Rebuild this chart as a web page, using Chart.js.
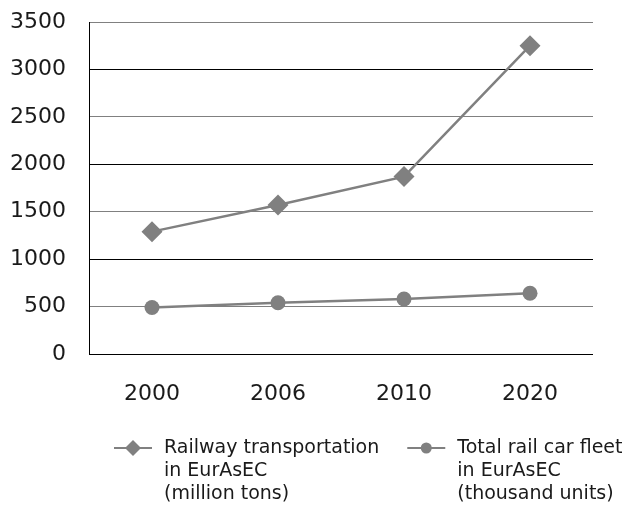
<!DOCTYPE html>
<html>
<head>
<meta charset="utf-8">
<script src="https://cdn.jsdelivr.net/npm/chart.js@4"></script>
<style>
  html, body { margin: 0; padding: 0; background: #fff; }
</style>
</head>
<body>
<canvas id="railChart" width="631" height="507"></canvas>
<script>
// data
var years = ['2000', '2006', '2010', '2020'];
var railwayTransport = [1290, 1570, 1870, 3250];
var railCarFleet = [490, 540, 580, 640];
var railwayLegend = ['Railway transportation', 'in EurAsEC', '(million tons)'];
var fleetLegend = ['Total rail car fleet', 'in EurAsEC', '(thousand units)'];

var grey = '#808080';
var textColor = '#1a1a1a';
var fontFamily = '"DejaVu Sans", sans-serif';

// legend drawn below the axis: line + marker, three text lines each
var lineLegend = {
    id: 'lineLegend',
    afterDraw: function(chart) {
        var ctx = chart.ctx;
        var x = chart.chartArea.left + 25;
        var y = chart.scales.x.bottom + 44;
        ctx.save();
        ctx.font = '19px ' + fontFamily;
        ctx.textBaseline = 'middle';
        ctx.textAlign = 'left';
        chart.data.datasets.forEach(function(ds) {
            ctx.strokeStyle = ds.borderColor;
            ctx.fillStyle = ds.borderColor;
            ctx.lineWidth = 2;
            ctx.beginPath();
            ctx.moveTo(x, y);
            ctx.lineTo(x + 38, y);
            ctx.stroke();
            var cx = x + 19;
            ctx.beginPath();
            if (ds.pointStyle === 'rectRot') {
                ctx.moveTo(cx, y - 8);
                ctx.lineTo(cx + 8, y);
                ctx.lineTo(cx, y + 8);
                ctx.lineTo(cx - 8, y);
                ctx.closePath();
            } else {
                ctx.arc(cx, y, 5.5, 0, Math.PI * 2);
            }
            ctx.fill();
            ctx.fillStyle = textColor;
            var w = 0;
            ds.legendLines.forEach(function(t, i) {
                ctx.fillText(t, x + 50, y + i * 23);
                w = Math.max(w, ctx.measureText(t).width);
            });
            x += 50 + w + 28;
        });
        ctx.restore();
    }
};

var ctx = document.getElementById('railChart').getContext('2d');
var myChart = new Chart(ctx, {
    type: 'line',
    data: {
        labels: years,
        datasets: [{
            label: railwayLegend.join(' '),
            legendLines: railwayLegend,
            data: railwayTransport,
            borderColor: grey,
            backgroundColor: grey,
            borderWidth: 2.5,
            pointStyle: 'rectRot',
            pointRadius: 10.5,
            pointBorderWidth: 0,
            pointBackgroundColor: grey
        }, {
            label: fleetLegend.join(' '),
            legendLines: fleetLegend,
            data: railCarFleet,
            borderColor: grey,
            backgroundColor: grey,
            borderWidth: 2.5,
            pointStyle: 'circle',
            pointRadius: 7.5,
            pointBorderWidth: 0,
            pointBackgroundColor: grey
        }]
    },
    options: {
        responsive: false,
        animation: false,
        layout: {
            padding: { top: 22, right: 38, bottom: 103, left: 0 }
        },
        scales: {
            x: {
                offset: true,
                grid: { display: false },
                border: { display: false },
                ticks: {
                    color: textColor,
                    padding: 19,
                    font: { family: fontFamily, size: 22 }
                },
                afterFit: function(s) { s.height = 50; s.paddingLeft = 0; s.paddingRight = 0; }
            },
            y: {
                min: 0,
                max: 3500,
                ticks: {
                    stepSize: 500,
                    color: textColor,
                    padding: 23,
                    font: { family: fontFamily, size: 22 },
                    callback: function(v) { return String(v); }
                },
                grid: {
                    drawTicks: false,
                    lineWidth: 1,
                    color: function(c) { return c.index % 2 === 0 ? '#000' : grey; }
                },
                border: { display: true, color: '#000', width: 1 },
                afterFit: function(s) { s.width = 89; s.paddingTop = 0; s.paddingBottom = 0; }
            }
        },
        plugins: {
            legend: { display: false },
            tooltip: { enabled: false }
        }
    },
    plugins: [lineLegend]
});
</script>
</body>
</html>
